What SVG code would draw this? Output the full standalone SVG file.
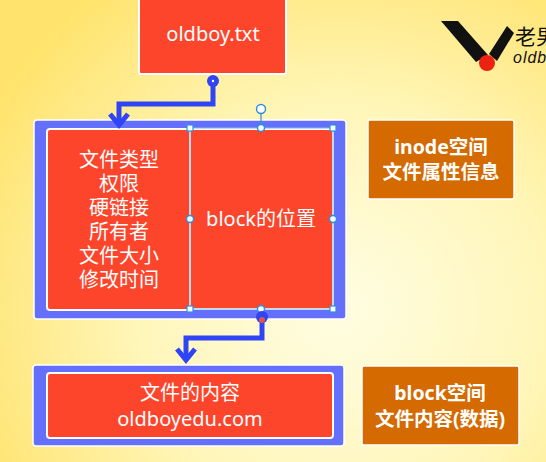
<svg xmlns="http://www.w3.org/2000/svg" width="546" height="462" viewBox="0 0 546 462">
<style>
.t{font-family:"Noto Sans","Noto Sans CJK SC",sans-serif;fill:#fff;text-anchor:middle}
.r{font-size:20px}
.e{font-size:20px}
.c{font-family:"Liberation Sans","Noto Sans CJK SC",sans-serif}
.b{font-size:19.5px;font-weight:700}
.red{fill:#fd452c;stroke:#fff;stroke-width:2}
.blue{fill:#6470fb;stroke:#fff;stroke-width:1.5}
.org{fill:#d46a00;stroke:#fff;stroke-width:1.5}
.conn{fill:none;stroke:#2f44f5;stroke-width:5}
.hs{fill:#fff;stroke:#2b8fe0;stroke-width:1.2}
.hc{fill:#fff;stroke:#2b8fe0;stroke-width:1.4}
</style>
<defs>
<radialGradient id="bg" gradientUnits="userSpaceOnUse" cx="340" cy="310" r="400">
<stop offset="0" stop-color="#fffde2"/>
<stop offset="0.5" stop-color="#fff6ba"/>
<stop offset="1" stop-color="#ffe36c"/>
</radialGradient>
<marker id="arr" markerUnits="userSpaceOnUse" markerWidth="26" markerHeight="26" refX="16" refY="13" orient="auto" viewBox="0 0 26 26">
<path d="M5 4 L16 13 L5 22" fill="none" stroke="#2f44f5" stroke-width="5"/>
</marker>
</defs>
<rect width="546" height="462" fill="url(#bg)"/>
<g id="logo">
<path d="M441 21 L458 21 L488 55 L476 62 Z" fill="#111"/>
<path d="M507 26 L514 33 L497 61 L489 54 Z" fill="#111"/>
<circle cx="487" cy="63" r="8" fill="#ee2211"/>
<text x="515" y="44" style="font-family:'Noto Sans CJK SC',sans-serif;font-size:21px" fill="#111">老男</text>
<text x="513" y="63" style="font-family:'Liberation Sans',sans-serif;font-size:16px;font-style:italic;letter-spacing:1px" fill="#111">oldb</text>
</g>
<g id="file"><rect class="red" x="139" y="-6" width="147" height="80" rx="2"/><text class="t e" x="213" y="41">oldboy.txt</text></g>
<g id="inode-outer"><rect class="blue" x="34" y="120" width="312" height="199" rx="3"/></g>
<g id="inode-attrs">
<rect class="red" x="47" y="129" width="143" height="181" rx="3"/>
<text class="t r c"><tspan x="119" y="167">文件类型</tspan><tspan x="119" y="191">权限</tspan><tspan x="119" y="215">硬链接</tspan><tspan x="119" y="239">所有者</tspan><tspan x="119" y="263">文件大小</tspan><tspan x="119" y="287">修改时间</tspan></text>
</g>
<g id="inode-block">
<rect class="red" x="190" y="129" width="143" height="180"/>
<text class="t r" x="261" y="226">block的位置</text>
<rect x="190" y="128" width="143" height="181" fill="none" stroke="#7fb8ea" stroke-width="1"/>
<path d="M261 128 V114" stroke="#2b8fe0" stroke-width="1.2"/>
<circle class="hc" cx="261" cy="109" r="4.5"/>
<rect class="hs" x="187" y="125" width="6" height="6"/>
<rect class="hs" x="330" y="125" width="6" height="6"/>
<rect class="hs" x="187" y="306" width="6" height="6"/>
<rect class="hs" x="330" y="306" width="6" height="6"/>
<circle class="hc" cx="261" cy="128" r="3.5"/>
<circle class="hc" cx="190" cy="219" r="3.5"/>
<circle class="hc" cx="333" cy="219" r="3.5"/>
<circle class="hc" cx="261" cy="309" r="3.5"/>
</g>
<g id="inode-label"><rect class="org" x="368" y="120" width="146" height="79" rx="2"/>
<text class="t b"><tspan x="441" y="154">inode空间</tspan><tspan x="441" y="179">文件属性信息</tspan></text></g>
<g id="content-outer"><rect class="blue" x="33" y="365" width="311" height="81" rx="3"/></g>
<g id="content"><rect class="red" x="47" y="373" width="286" height="65" rx="3"/>
<text class="t r"><tspan class="c" x="190" y="400">文件的内容</tspan><tspan x="190" y="426">oldboyedu.com</tspan></text></g>
<g id="block-label"><rect class="org" x="362" y="366" width="157" height="79" rx="2"/>
<text class="t b"><tspan x="440" y="400">block空间</tspan><tspan x="440" y="426">文件内容(数据)</tspan></text></g>
<g id="connectors">
<path class="conn" d="M213 81 V104 H119 V125" marker-end="url(#arr)"/>
<circle cx="213" cy="81" r="6" fill="#2f44f5"/><circle cx="213" cy="81" r="1.2" fill="#fff"/>
<path class="conn" d="M262 318 V338 H186 V360" marker-end="url(#arr)"/>
<circle cx="262" cy="317" r="6" fill="#2f44f5"/><circle cx="262" cy="320" r="3" fill="#e0554a"/>
</g>
</svg>
